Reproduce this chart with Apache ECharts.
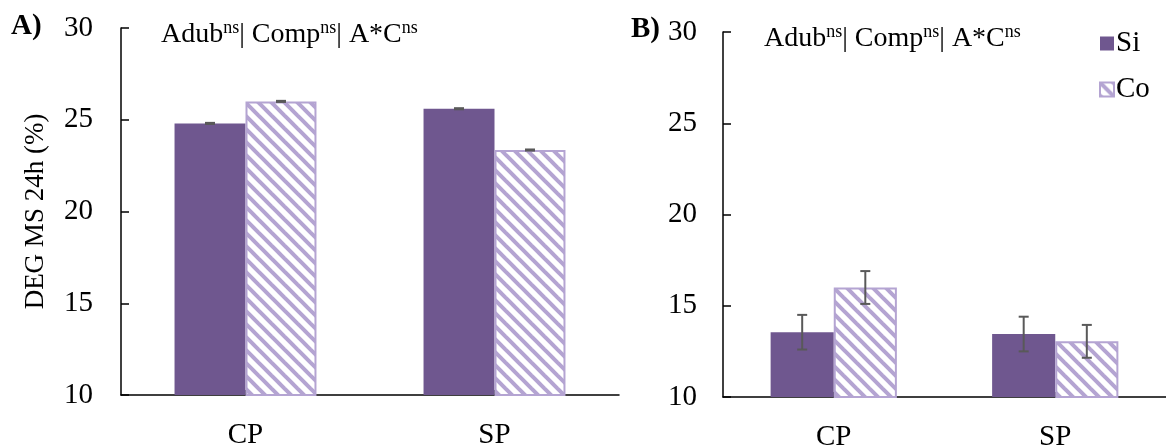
<!DOCTYPE html>
<html>
<head>
<meta charset="utf-8">
<script src="https://cdn.jsdelivr.net/npm/echarts@6/dist/echarts.min.js"></script>
<style>
html,body{margin:0;padding:0;background:#fff;}
#chart{width:1166px;height:448px;}
</style>
</head>
<body>
<div id="chart"></div>
<script>
// ---- data ----
const categories = ['CP', 'SP'];
const seriesNames = ['Si', 'Co'];
// Panel A
const siA = [24.8, 25.6];
const coA = [26.0, 23.35];
const siAErr = [0.03, 0.03];
const coAErr = [0.03, 0.03];
// Panel B
const siB = [13.55, 13.45];
const coB = [16.0, 13.05];
const siBErr = [0.95, 0.95];
const coBErr = [0.9, 0.9];
const yTicks = [10, 15, 20, 25, 30];

// ---- styles ----
const FONT = 'Liberation Serif';
const SI_COLOR = '#6f578f';
const CO_LINE = '#b4a4d2';
const GAP = 0.43;

function makePattern() {
  const s = 13;
  const c = document.createElement('canvas');
  c.width = s; c.height = s;
  const ctx = c.getContext('2d');
  ctx.fillStyle = '#ffffff';
  ctx.fillRect(0, 0, s, s);
  ctx.strokeStyle = CO_LINE;
  ctx.lineWidth = 4;
  for (const k of [-s, 0, s]) {
    ctx.beginPath();
    ctx.moveTo(k - 2, -2);
    ctx.lineTo(k + s + 2, s + 2);
    ctx.stroke();
  }
  return c;
}
const pattern = { image: makePattern(), repeat: 'repeat' };

function errData(vals, errs, grp) {
  return vals.map((v, i) => [i, v - errs[i], v + errs[i], grp]);
}

function renderErr(params, api) {
  const cat = api.value(0);
  const lo = api.value(1), hi = api.value(2), grp = api.value(3);
  const band = api.size([1, 0])[0];
  const bw = band * (1 - GAP) / 2;
  const base = api.coord([cat, lo]);
  const top = api.coord([cat, hi]);
  const x = base[0] + (grp === 0 ? -bw / 2 : bw / 2);
  const cap = 5;
  const st = { stroke: '#595959', lineWidth: 2 };
  return {
    type: 'group',
    children: [
      { type: 'line', shape: { x1: x, y1: base[1], x2: x, y2: top[1] }, style: st },
      { type: 'line', shape: { x1: x - cap, y1: base[1], x2: x + cap, y2: base[1] }, style: st },
      { type: 'line', shape: { x1: x - cap, y1: top[1], x2: x + cap, y2: top[1] }, style: st }
    ]
  };
}

const axisLabelStyle = { fontFamily: FONT, fontSize: 29, color: '#000' };

function yAxis(idx, name, margin) {
  return {
    type: 'value', gridIndex: idx, min: yTicks[0], max: yTicks[yTicks.length - 1], interval: 5,
    name: name, nameLocation: 'middle', nameGap: 72,
    nameTextStyle: { fontFamily: FONT, fontSize: 27, color: '#000' },
    axisLine: { show: true, lineStyle: { color: '#000', width: 1.5 } },
    axisTick: { show: true, inside: true, length: 8, lineStyle: { color: '#000', width: 1.5 } },
    axisLabel: Object.assign({ margin: margin }, axisLabelStyle),
    splitLine: { show: false }
  };
}
function xAxis(idx) {
  return {
    type: 'category', gridIndex: idx, data: categories,
    axisLine: { show: true, lineStyle: { color: '#000', width: 1.5 } },
    axisTick: { show: true, alignWithLabel: true, inside: true, length: 5, lineStyle: { color: '#000', width: 1.5 } },
    axisLabel: Object.assign({ margin: 26 }, axisLabelStyle)
  };
}

const coStyle = { color: pattern, borderColor: CO_LINE, borderWidth: 2 };
const siStyle = { color: SI_COLOR };

function titleText(x, y) {
  return {
    type: 'text', left: x, top: y,
    style: {
      text: '{a|Adub}{s|ns}{a|| Comp}{s|ns}{a|| A*C}{s|ns}',
      rich: {
        a: { fontFamily: FONT, fontSize: 28, fill: '#000', lineHeight: 32, verticalAlign: 'bottom' },
        s: { fontFamily: FONT, fontSize: 18, fill: '#000', lineHeight: 32, verticalAlign: 'top', padding: [2, 0, 0, 0] }
      }
    }
  };
}

const option = {
  animation: false,
  backgroundColor: '#fff',
  grid: [
    { left: 121, right: 547, top: 28, bottom: 53, containLabel: false, outerBoundsMode: 'none' },
    { left: 723, right: 0, top: 32, bottom: 51, containLabel: false, outerBoundsMode: 'none' }
  ],
  xAxis: [xAxis(0), xAxis(1)],
  yAxis: [yAxis(0, 'DEG MS 24h (%)', 28), yAxis(1, '', 26)],
  legend: {
    data: seriesNames, orient: 'vertical', left: 1094, top: 24, itemGap: 17,
    itemWidth: 14, itemHeight: 14, icon: 'rect',
    textStyle: { fontFamily: FONT, fontSize: 29, color: '#000', padding: [0, 0, 0, -3] }
  },
  graphic: [
    { type: 'text', left: 11, top: 12, style: { text: 'A)', fontFamily: FONT, fontSize: 29, fontWeight: 'bold', fill: '#000' } },
    { type: 'text', left: 631, top: 15, style: { text: 'B)', fontFamily: FONT, fontSize: 29, fontWeight: 'bold', fill: '#000' } },
    titleText(161, 17),
    titleText(764, 21)
  ],
  series: [
    { name: 'Si', type: 'bar', xAxisIndex: 0, yAxisIndex: 0, data: siA, itemStyle: siStyle, barGap: '0%', barCategoryGap: (GAP * 100) + '%' },
    { name: 'Co', type: 'bar', xAxisIndex: 0, yAxisIndex: 0, data: coA, itemStyle: coStyle, barGap: '0%', barCategoryGap: (GAP * 100) + '%' },
    { name: 'Si', type: 'bar', xAxisIndex: 1, yAxisIndex: 1, data: siB, itemStyle: siStyle, barGap: '0%', barCategoryGap: (GAP * 100) + '%' },
    { name: 'Co', type: 'bar', xAxisIndex: 1, yAxisIndex: 1, data: coB, itemStyle: coStyle, barGap: '0%', barCategoryGap: (GAP * 100) + '%' },
    { type: 'custom', xAxisIndex: 0, yAxisIndex: 0, renderItem: renderErr, data: errData(siA, siAErr, 0).concat(errData(coA, coAErr, 1)), encode: { x: 0, y: [1, 2] }, z: 5 },
    { type: 'custom', xAxisIndex: 1, yAxisIndex: 1, renderItem: renderErr, data: errData(siB, siBErr, 0).concat(errData(coB, coBErr, 1)), encode: { x: 0, y: [1, 2] }, z: 5 }
  ]
};

const chart = echarts.init(document.getElementById('chart'), null, { renderer: 'canvas' });
chart.setOption(option);
</script>
</body>
</html>
